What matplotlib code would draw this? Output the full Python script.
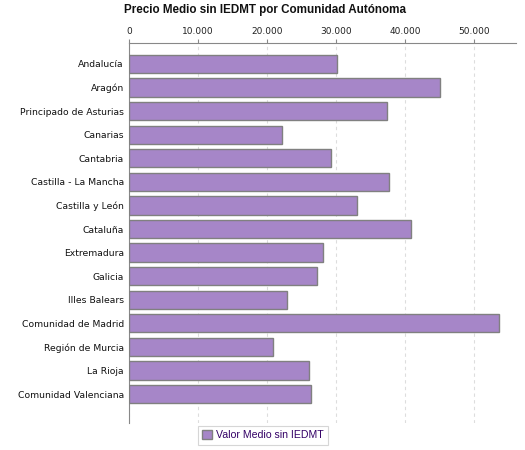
import matplotlib.pyplot as plt
from matplotlib.ticker import FuncFormatter
from matplotlib.patches import Patch

regiones = ['Andalucía', 'Aragón', 'Principado de Asturias', 'Canarias',
            'Cantabria', 'Castilla - La Mancha', 'Castilla y León', 'Cataluña',
            'Extremadura', 'Galicia', 'Illes Balears', 'Comunidad de Madrid',
            'Región de Murcia', 'La Rioja', 'Comunidad Valenciana']
precio_medio = [30100, 45100, 37400, 22200, 29300, 37700, 33000, 40900,
                28100, 27200, 22900, 53700, 20800, 26100, 26400]
x_ticks = [0, 10000, 20000, 30000, 40000, 50000]

BAR_COLOR = '#a686c8'

fig = plt.figure(figsize=(5.25, 4.5), dpi=100)
ax = fig.add_axes([0.2463, 0.06, 0.7375, 0.8444])

pos = list(range(len(regiones)))
ax.barh(pos, precio_medio, height=0.77, color=BAR_COLOR,
        edgecolor='#808080', linewidth=1.0, zorder=3)

ax.set_ylim(15.23, -0.89)
ax.set_xlim(0, 56200)
ax.set_yticks(pos)
ax.set_yticklabels(regiones, fontsize=6.7, color='#111111')
ax.set_xticks(x_ticks)
ax.xaxis.set_major_formatter(
    FuncFormatter(lambda v, p: '0' if v == 0 else f'{int(v):,}'.replace(',', '.')))
ax.xaxis.tick_top()
ax.tick_params(axis='x', labelsize=6.5, length=3, color='#888888',
               labelcolor='#222222', pad=2)
ax.tick_params(axis='y', length=0, pad=4)

ax.grid(axis='x', linestyle=(0, (3, 3)), color='#dddddd', linewidth=0.8, zorder=0)
for s in ['right', 'bottom']:
    ax.spines[s].set_visible(False)
for s in ['top', 'left']:
    ax.spines[s].set_color('#888888')
    ax.spines[s].set_linewidth(0.8)

fig.text(0.505, 0.99, 'Precio Medio sin IEDMT por Comunidad Autónoma',
         ha='center', va='top', fontsize=8.4, fontweight='bold', color='#111111',
         family='Liberation Sans')

leg = fig.legend(handles=[Patch(facecolor=BAR_COLOR, edgecolor='#808080',
                                label='Valor Medio sin IEDMT')],
                 loc='lower center', bbox_to_anchor=(0.501, 0.0),
                 prop={'family': 'Liberation Sans', 'size': 7.6},
                 frameon=True, fancybox=False, handlelength=0.9, handleheight=0.9,
                 handletextpad=0.4, borderpad=0.4, labelcolor='#330066')
leg.get_frame().set_edgecolor('#cccccc')
leg.get_frame().set_linewidth(0.8)

fig.savefig('out.png', dpi=100)
